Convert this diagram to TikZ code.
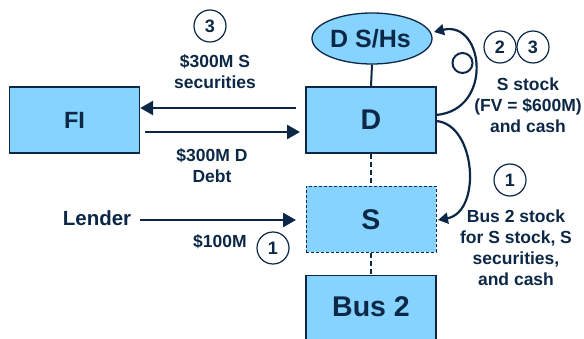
\documentclass[tikz,border=0pt]{standalone}
\usepackage{fontspec}
\setmainfont{Liberation Sans}
\usetikzlibrary{arrows.meta,shapes.geometric}
\definecolor{boxfill}{RGB}{134,211,255}
\definecolor{navy}{RGB}{12,40,70}
\begin{document}
\begin{tikzpicture}[x=1pt,y=-1pt,
  box/.style={draw=navy,line width=1.3pt,fill=boxfill,minimum width=130pt,minimum height=66pt,inner sep=0pt,text=navy,font=\bfseries\fontsize{28.5}{30}\selectfont},
  lbl/.style={text=navy,align=center,font=\bfseries\fontsize{17.5}{21}\selectfont,inner sep=0pt},
  num/.style={draw=navy,circle,line width=1.2pt,fill=white,minimum size=32pt,inner sep=0pt,text=navy,font=\bfseries\fontsize{18}{20}\selectfont},
  arr/.style={draw=navy,line width=2.6pt,-{Triangle[length=13pt,width=14pt]}},
  carr/.style={draw=navy,line width=2.2pt,-{Triangle[length=10pt,width=11pt]}},
  link/.style={draw=navy,line width=2pt}]
\useasboundingbox (0,0) rectangle (584,339);
\clip (0,0) rectangle (584,339);
% boxes
\node[box,font=\bfseries\fontsize{23.5}{26}\selectfont] (fi) at (74.5,120) {FI};
\node[box] (d) at (371,120) {D};
\node[box,dashed,line width=1pt,dash pattern=on 3pt off 2pt] (s) at (371,219.5) {S};
\node[box,minimum height=72pt,anchor=north] (bus) at (371,275) {};
\node[text=navy,font=\bfseries\fontsize{28.5}{30}\selectfont,inner sep=0pt] (buslbl) at (371,307) {Bus 2};
\node[ellipse,draw=navy,line width=1.3pt,fill=boxfill,minimum width=120pt,minimum height=51pt,inner sep=0pt] (sh) at (372,38.5) {};
\node[text=navy,font=\bfseries\fontsize{25}{27}\selectfont,inner sep=0pt] (shlbl) at (370.5,39) {D S/Hs};
% vertical links
\draw[link] (sh.south) -- (d.north);
\draw[link,dash pattern=on 5pt off 3pt] (d.south) -- (s.north);
\draw[link,dash pattern=on 5pt off 3pt] (s.south) -- (bus.north);
% FI arrows
\coordinate (dtop) at (296,108);
\coordinate (fibot) at (145,132);
\draw[arr] (dtop) -- (fi.east |- dtop);
\draw[arr] (fibot) -- (300,132) coordinate (dbot);
% Lender
\node[lbl,font=\bfseries\fontsize{20.5}{22}\selectfont] (lender) at (97,218) {Lender};
\coordinate (lend1) at (140,220);
\draw[arr] (lend1) -- (296,220) coordinate (lend2);
% labels
\node[num] (c3a) at (210,26) {3};
\node[lbl] (l300s) at (215,72) {\$300M S\\securities};
\node[lbl] (l300d) at (212,166) {\$300M D\\Debt};
\node[lbl] (l100) at (220,242) {\$100M};
\node[num] (c1a) at (273,248) {1};
\node[num] (c2b) at (500,47) {2};
\node[num] (c3b) at (533,47) {3};
\node[lbl] (lsst) at (528,105) {S stock\\(FV = \$600M)\\and cash};
\node[num] (c1b) at (510,180) {1};
\node[lbl] (lbus) at (516,248) {Bus 2 stock\\for S stock, S\\securities,\\and cash};
% curved arrows
\coordinate (ds1) at (436,115);
\coordinate (ds2) at (436,121);
\coordinate (shr) at (434,32);
\coordinate (sr) at (438,220);
\draw[carr] (ds1) .. controls (494,110) and (484,20) .. (shr);
\draw[carr] (ds2) .. controls (476,124) and (482,212) .. (sr);
\draw[navy,line width=2pt] (462.5,63) circle (10pt);
\end{tikzpicture}
\end{document}
